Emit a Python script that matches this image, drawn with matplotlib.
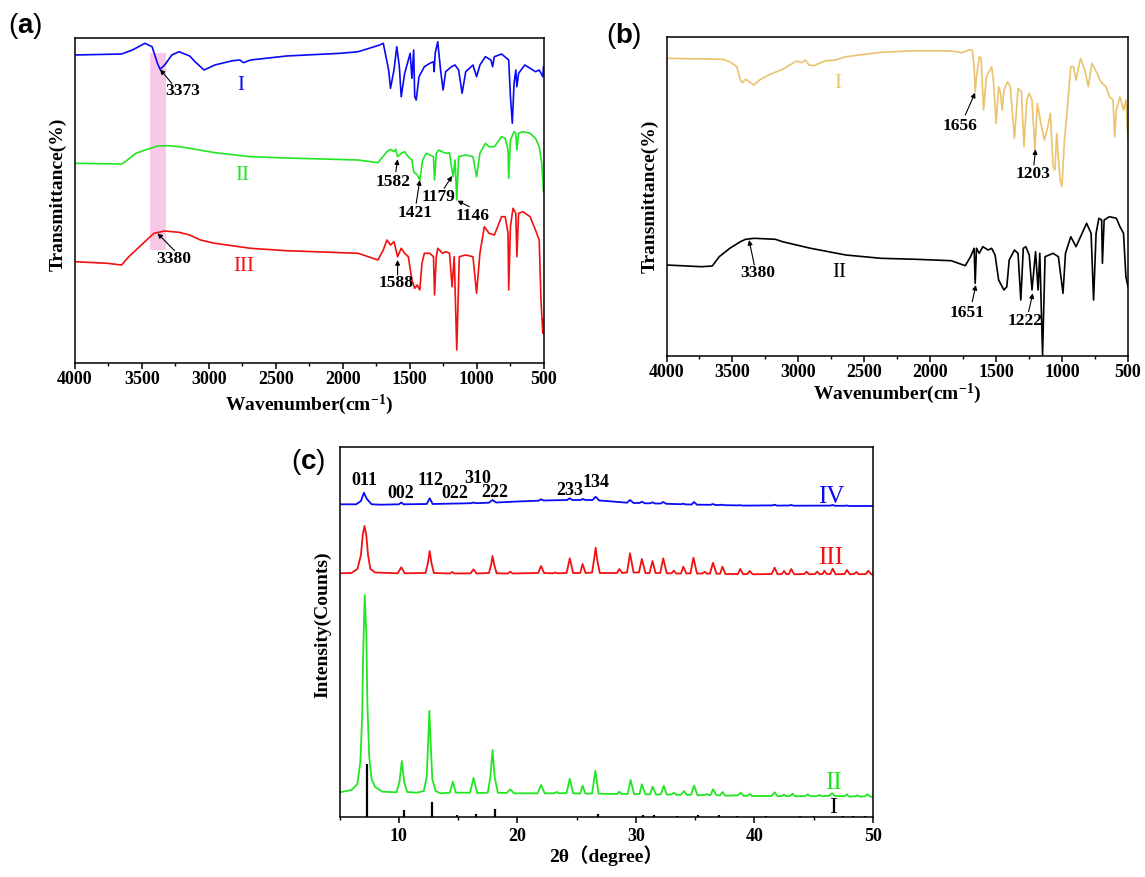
import matplotlib
matplotlib.use("Agg")
import matplotlib.pyplot as plt
from matplotlib.ticker import MultipleLocator

plt.rcParams['font.family'] = ['Liberation Serif', 'Noto Sans CJK SC']
plt.rcParams['mathtext.fontset'] = 'custom'
plt.rcParams['mathtext.rm'] = 'Liberation Serif:bold'
plt.rcParams['mathtext.bf'] = 'Liberation Serif:bold'
plt.rcParams['mathtext.it'] = 'Liberation Serif:bold:italic'

# ---------------- data: panel (a) FTIR (wavenumber, transmittance a.u.) ----------------
a_I = [(4000, 308), (3652, 309), (3571, 313), (3478, 319.7), (3424, 316.3), (3384, 299.7),
       (3365, 293.7), (3330, 298), (3277, 308), (3223, 311.3), (3143, 307), (3103, 301.3),
       (3036, 293), (2956, 298), (2822, 302.3), (2768, 303), (2741, 300.3), (2688, 303),
       (2420, 307), (2018, 309.7), (1884, 311.3), (1724, 318), (1697, 319.7), (1657, 293),
       (1643, 274.7), (1617, 293), (1596, 316.3), (1577, 296.3), (1563, 266.3), (1537, 289.7),
       (1496, 309.7), (1483, 284.7), (1470, 313), (1462, 266.3), (1451, 263), (1430, 286.3),
       (1390, 296.3), (1349, 299.7), (1322, 301.3), (1317, 291.3), (1309, 309.7), (1290, 321.3),
       (1269, 293), (1250, 273), (1231, 291.3), (1188, 296.3), (1161, 298), (1134, 293),
       (1108, 269.7), (1081, 291.3), (1027, 298), (1000, 286.3), (975, 298), (934, 306.3),
       (893, 303), (880, 296.3), (867, 306.3), (813, 309), (760, 303), (747, 266.3),
       (733, 239.7), (720, 279.7), (707, 293), (699, 276.3), (686, 289.7), (640, 298),
       (600, 294.7), (560, 291.3), (532, 293), (505, 286.3), (500, 296.3)]
a_II = [(4000, 199.7), (3652, 199), (3625, 201.3), (3545, 209.7), (3438, 214.7), (3384, 217),
        (3304, 217.3), (3223, 216.3), (3143, 214.7), (2956, 210.3), (2688, 206.3), (2420, 205),
        (1884, 203), (1737, 200.3), (1670, 211.3), (1643, 213.7), (1617, 211.3), (1604, 213.7),
        (1590, 206.3), (1563, 209.7), (1537, 211.3), (1510, 206.3), (1483, 203), (1470, 191.3),
        (1443, 188), (1424, 183), (1403, 203), (1376, 209.7), (1349, 208), (1322, 206.3),
        (1314, 183), (1301, 209.7), (1282, 213), (1242, 210.3), (1215, 209.7), (1202, 210.3),
        (1188, 196.3), (1175, 186.3), (1161, 203), (1148, 163), (1134, 206.3), (1081, 208),
        (1027, 206.3), (1000, 186.3), (975, 209.7), (934, 219.7), (907, 216.3), (867, 216.3),
        (813, 226.3), (786, 224.7), (765, 213), (760, 184.7), (747, 223), (720, 231.3),
        (707, 229.7), (699, 213), (686, 229.7), (654, 231.3), (600, 229.7), (560, 224.7),
        (532, 216.3), (513, 199.7), (500, 171.3)]
a_III = [(4000, 101.3), (3759, 99.7), (3652, 98), (3598, 106.3), (3491, 119.7), (3411, 129.7),
         (3330, 132), (3223, 130.7), (3143, 128), (3063, 123), (2956, 119.7), (2688, 114.7),
         (2420, 112.3), (1884, 109.7), (1737, 103), (1697, 113), (1670, 123), (1643, 118),
         (1617, 121.3), (1590, 106.3), (1563, 114.7), (1537, 109.7), (1510, 106.3), (1483, 83),
         (1462, 74.7), (1443, 78), (1424, 73), (1408, 99.7), (1390, 109.7), (1349, 109.7),
         (1322, 106.3), (1314, 68), (1301, 106.3), (1290, 114.7), (1255, 109.7), (1229, 111.3),
         (1202, 109.7), (1183, 76.3), (1167, 106.3), (1148, 13), (1129, 106.3), (1081, 108),
         (1027, 106.3), (1000, 69.7), (975, 109.7), (942, 136.3), (907, 129.7), (867, 128),
         (813, 146.3), (786, 146.3), (765, 129.7), (760, 73), (747, 136.3), (728, 154.7),
         (707, 149.7), (699, 106.3), (686, 149.7), (654, 151.3), (600, 146.3), (560, 133),
         (532, 123), (519, 63), (505, 29.7), (500, 43)]
a_band_wn = [3438, 3317]
a_band_T = (113, 309.7)

# ---------------- data: panel (b) FTIR ----------------
b_I = [(4000, 297.7), (3573, 296.7), (3520, 294.3), (3467, 289.3), (3440, 276), (3427, 273.3),
       (3400, 276.7), (3374, 274.3), (3339, 271), (3294, 276), (3227, 281), (3120, 286.7),
       (3014, 295), (2974, 293.3), (2947, 296), (2920, 291), (2880, 290.3), (2840, 292.7),
       (2800, 295), (2720, 296), (2640, 299.3), (2374, 303.7), (2107, 305.3), (1841, 305),
       (1761, 303.3), (1707, 306), (1681, 306), (1667, 289.3), (1659, 264.3), (1649, 279.3),
       (1628, 299.3), (1614, 297.7), (1595, 246), (1574, 279.3), (1534, 289.3), (1521, 276),
       (1500, 232.7), (1481, 269.3), (1467, 262.7), (1454, 246), (1441, 266), (1414, 274.3),
       (1393, 269.3), (1361, 217.7), (1334, 267.7), (1308, 264.3), (1289, 209.3), (1268, 256),
       (1249, 262.7), (1228, 256), (1206, 206), (1188, 252.7), (1161, 232.7), (1134, 216),
       (1108, 229.3), (1089, 242.7), (1068, 189.3), (1054, 186), (1041, 222.7), (1027, 196),
       (1014, 176), (1001, 169.3), (982, 216), (961, 246), (934, 289.3), (913, 289.3),
       (894, 276), (860, 297.7), (828, 286), (801, 269.3), (774, 292.7), (734, 282.7),
       (707, 274.3), (667, 269.3), (641, 259.3), (614, 256), (601, 219.3), (588, 246),
       (561, 259.3), (534, 246), (516, 256), (500, 216)]
b_II = [(4000, 91), (3733, 89.3), (3653, 90), (3600, 99.3), (3520, 107.7), (3440, 114.3),
        (3400, 116.7), (3334, 117.7), (3174, 116.7), (3120, 114.3), (2907, 107.7), (2640, 101),
        (2374, 97.7), (2107, 96.7), (1841, 95.3), (1734, 90.3), (1694, 99.3), (1667, 107.7),
        (1659, 72.7), (1649, 107.7), (1628, 102.7), (1601, 109.3), (1561, 106), (1534, 107.7),
        (1508, 101), (1481, 76), (1441, 66), (1419, 69.3), (1401, 96), (1361, 106),
        (1334, 102.7), (1313, 56), (1294, 107.7), (1275, 109.3), (1249, 101), (1228, 66),
        (1201, 104.3), (1182, 66), (1169, 102.7), (1148, 1), (1129, 99.3), (1068, 102.7),
        (1028, 99.3), (993, 62.7), (974, 102.7), (934, 119.3), (894, 109.3), (814, 132.7),
        (780, 122.7), (761, 56), (742, 122.7), (721, 137.7), (700, 136), (694, 92.7),
        (681, 136), (641, 139.3), (588, 137.7), (561, 129.3), (534, 122.7), (516, 79.3),
        (500, 69.3)]

# ---------------- data: panel (c) XRD (2theta, intensity a.u.) ----------------
c_II = [(5.0, 24.7), (6.0, 27), (6.5, 33), (6.75, 55), (6.9, 100), (7.0, 170), (7.12, 222),
        (7.25, 185), (7.35, 110), (7.5, 60), (7.7, 38), (8.0, 30), (8.6, 25.3),
        (9.8, 24.7), (10.05, 35), (10.25, 56), (10.45, 35), (10.7, 25), (11.5, 24.3),
        (12.1, 26), (12.35, 40), (12.47, 75), (12.57, 106), (12.68, 75), (12.82, 38), (13.1, 26),
        (13.5, 23.7), (14.3, 24.3), (14.55, 35.3), (14.8, 24.3), (16.0, 24.3), (16.3, 39),
        (16.6, 24), (17.5, 24.3), (17.72, 40), (17.9, 67), (18.08, 40), (18.35, 24.3),
        (19.1, 24), (19.4, 27.7), (19.7, 23.7), (21.7, 23.7), (22.0, 32), (22.3, 23.7),
        (23.1, 23.7), (23.3, 25), (23.5, 23.7), (24.15, 24), (24.42, 38.3), (24.7, 23.7),
        (25.3, 23.5), (25.5, 31.3), (25.75, 23.3), (26.3, 23.5), (26.58, 46.3), (26.85, 23.3),
        (28.4, 23), (28.6, 25.3), (28.8, 23), (29.3, 23), (29.55, 37), (29.85, 22.7),
        (30.3, 23), (30.5, 32.7), (30.8, 22.7), (31.2, 22.7), (31.4, 30.3), (31.7, 22.3),
        (32.1, 22.7), (32.35, 31.3), (32.6, 22.3), (33.0, 22.7), (33.2, 24.3), (33.4, 22.3),
        (33.8, 22.3), (34.05, 26), (34.3, 22), (34.65, 22.3), (34.9, 31.3), (35.2, 21.7),
        (35.8, 22), (36.0, 23), (36.2, 21.7), (36.3, 22), (36.5, 27.7), (36.8, 21.7),
        (37.1, 21.7), (37.3, 25), (37.55, 21.3), (38.6, 21.7), (38.85, 24.3), (39.1, 21),
        (39.4, 21.3), (39.6, 23), (39.8, 21), (41.45, 21), (41.7, 24.7), (41.95, 20.7),
        (42.3, 21), (42.5, 22.3), (42.7, 20.7), (43.0, 21), (43.2, 23.3), (43.45, 20.7),
        (44.3, 21), (44.5, 22.7), (44.7, 20.7), (45.3, 21), (45.5, 22), (45.7, 20.7),
        (46.3, 21.3), (46.55, 23.7), (46.8, 21), (47.6, 20.7), (47.8, 22.7), (48.0, 20.3),
        (48.5, 20.7), (48.7, 21.7), (48.9, 20.3), (49.3, 20.7), (49.55, 22.7), (49.8, 20.3),
        (50.0, 20.3)]
c_III = [(5.0, 243.7), (6.0, 244), (6.5, 248), (6.8, 262), (6.95, 282), (7.1, 291),
         (7.25, 282), (7.4, 262), (7.6, 248), (8.0, 244.5), (9.9, 243.7), (10.2, 249.7),
         (10.5, 243.7), (12.25, 244), (12.45, 254), (12.6, 266), (12.75, 254), (12.95, 244),
         (14.3, 243.5), (14.5, 245), (14.7, 243.5), (16.05, 243.7), (16.3, 247.7), (16.55, 243.5),
         (17.6, 244), (17.78, 252), (17.9, 261), (18.05, 252), (18.25, 243.7), (19.2, 243.5),
         (19.4, 245.3), (19.6, 243.5), (21.75, 244), (22.0, 251), (22.25, 244), (23.0, 243.7),
         (23.2, 244.5), (23.4, 243.7), (24.15, 244), (24.42, 258.7), (24.7, 244), (25.3, 244),
         (25.5, 253), (25.75, 244), (26.3, 244.5), (26.45, 256), (26.6, 269.3), (26.75, 256),
         (26.95, 244), (28.4, 244), (28.6, 248), (28.85, 244), (29.25, 244.5), (29.5, 263.7),
         (29.8, 244.5), (30.25, 244.5), (30.5, 258), (30.8, 244), (31.15, 244), (31.4, 256),
         (31.65, 244), (32.05, 244), (32.3, 258.7), (32.6, 243.7), (33.0, 243.7), (33.2, 246.3),
         (33.4, 243.5), (33.8, 243.5), (34.0, 250.3), (34.25, 243.5), (34.6, 243.7),
         (34.85, 259.3), (35.15, 243.5), (35.6, 243.5), (35.8, 245.3), (36.0, 243.3),
         (36.25, 243.5), (36.5, 254.3), (36.8, 243.3), (37.1, 243.3), (37.3, 250.3), (37.55, 243),
         (38.6, 243), (38.8, 248), (39.05, 242.7), (39.4, 243), (39.6, 246), (39.85, 242.7),
         (41.45, 243), (41.7, 249.3), (41.95, 242.7), (42.3, 243), (42.5, 246), (42.7, 242.7),
         (42.9, 243), (43.1, 248), (43.35, 242.7), (44.2, 243), (44.4, 245.3), (44.6, 242.7),
         (45.1, 243), (45.3, 245.3), (45.5, 242.7), (45.75, 243), (45.9, 246.3), (46.1, 243),
         (46.4, 243), (46.6, 248.3), (46.85, 242.7), (47.6, 243), (47.8, 247), (48.05, 242.7),
         (48.4, 243), (48.6, 245), (48.8, 242.7), (49.4, 243), (49.6, 246.3), (49.85, 242.7),
         (50.0, 243)]
c_IV = [(5.0, 312.7), (6.4, 312.7), (6.8, 316), (7.05, 324.3), (7.3, 318), (7.7, 312.7),
        (8.5, 312.3), (10.0, 312.7), (10.2, 314.5), (10.4, 312.7), (12.35, 313), (12.6, 318.7),
        (12.85, 313), (15.0, 313.5), (16.1, 313.8), (16.3, 314.5), (16.5, 313.8), (17.6, 314.3),
        (17.9, 317), (18.2, 314.5), (20.0, 315.5), (21.8, 316.3), (22.0, 317.8), (22.2, 316.5),
        (24.2, 317), (24.4, 318.7), (24.65, 317), (25.3, 317), (25.5, 318), (25.75, 317),
        (26.35, 317), (26.6, 320.3), (26.9, 316.5), (27.5, 316), (29.25, 314.3), (29.5, 317),
        (29.8, 314), (30.3, 314), (30.5, 315.3), (30.75, 313.7), (31.2, 313.7), (31.4, 314.7),
        (31.6, 313.5), (32.1, 313.5), (32.3, 315), (32.55, 313.2), (33.8, 312.8), (34.0, 313.3),
        (34.2, 312.6), (34.7, 312.5), (34.9, 315), (35.15, 312.3), (36.3, 312.2), (36.5, 313),
        (36.7, 312), (37.1, 312), (37.3, 312.3), (37.5, 311.8), (38.6, 311.6), (38.8, 311.8),
        (39.0, 311.4), (41.5, 311.6), (41.7, 312.3), (41.9, 311.4), (42.9, 311.5), (43.1, 312),
        (43.3, 311.3), (46.4, 311.4), (46.6, 312), (46.8, 311.2), (47.6, 311.2), (47.8, 311.5),
        (48.0, 311), (50.0, 311)]
c_ref_pos = [7.34, 10.4, 12.8, 14.9, 16.5, 18.15, 26.8, 30.6, 31.5, 33.5, 35.2, 37.0,
             38.5, 41.0, 43.8, 45.0, 47.5, 48.3, 49.3]
c_ref_h = [53, 7, 15.5, 2.5, 3.3, 8.3, 3, 2, 2, 1.5, 2, 2, 1.5, 1.5, 1.5, 1.5, 1.5, 1.5, 1.5]
c_hkl = ['011', '002', '112', '022', '310', '222', '233', '134']
c_hkl_x = [7.12, 10.19, 12.64, 14.75, 16.66, 18.1, 24.4, 26.6]
c_hkl_y = [337, 324, 337, 324, 339, 325, 327, 335]

wn_ticks = [4000, 3500, 3000, 2500, 2000, 1500, 1000, 500]
tt_ticks = [10, 20, 30, 40, 50]

BLUE = '#0A0AF5'
GREEN = '#22E622'
RED = '#F21010'
GOLD = '#EBC26E'

TICK_FS = 13
NUM_FS = 12.5

fig = plt.figure(figsize=(11.45, 8.77), dpi=100)
W, H = 1145.0, 877.0


def axes_px(left, top, right, bottom):
    return fig.add_axes([left / W, 1 - bottom / H, (right - left) / W, (bottom - top) / H])


def style_ftir(ax, ytop):
    ax.set_xlim(4000, 500)
    ax.set_ylim(0, ytop)
    ax.set_xticks(wn_ticks)
    ax.xaxis.set_minor_locator(MultipleLocator(250))
    ax.set_yticks([])
    ax.tick_params(axis='x', which='major', direction='out', length=4, width=1.1,
                   labelsize=TICK_FS, pad=2)
    ax.tick_params(axis='x', which='minor', direction='out', length=2.5, width=1.0)
    for lab in ax.get_xticklabels():
        lab.set_fontweight('bold')
    for s in ax.spines.values():
        s.set_linewidth(1.1)
    ax.set_xlabel('Wavenumber(cm$^{-1}$)', fontsize=14, fontweight='bold', labelpad=3)
    ax.set_ylabel('Transmittance(%)', fontsize=14, fontweight='bold')


def arrow(ax, tail, tip):
    ax.annotate('', xy=tip, xytext=tail,
                arrowprops=dict(arrowstyle='-|>', color='k', lw=0.8, mutation_scale=7,
                                shrinkA=0, shrinkB=0))


def num(ax, x, y, s):
    ax.text(x, y, s, fontsize=NUM_FS, fontweight='bold', ha='center', va='center')


def panel_label(xpx, ypx, letter):
    t1 = fig.text(xpx / W, 1 - ypx / H, '(', fontsize=20, family='Liberation Sans',
                  ha='left', va='center')
    t2 = fig.axes[0].annotate(letter, xy=(1, 0), xycoords=t1, fontsize=20, family='Liberation Sans',
                              fontweight='bold', ha='left', va='bottom', annotation_clip=False)
    fig.axes[0].annotate(')', xy=(1, 0), xycoords=t2, fontsize=20, family='Liberation Sans',
                         ha='left', va='bottom', annotation_clip=False)


def unzip(pairs):
    return [p[0] for p in pairs], [p[1] for p in pairs]


# ---------------- panel (a) ----------------
axa = axes_px(75, 38, 543.5, 363)
axa.fill_between(a_band_wn, a_band_T[0], a_band_T[1], color='#F8C8E8', lw=0, zorder=1)
for data, col in ((a_I, BLUE), (a_II, GREEN), (a_III, RED)):
    x, y = unzip(data)
    axa.plot(x, y, color=col, lw=1.2, zorder=2)
style_ftir(axa, 325)
axa.yaxis.set_label_coords(-0.018, 0.52)
axa.text(2763, 278, 'I', color=BLUE, fontsize=15, ha='center', va='center')
axa.text(2747, 188, 'II', color=GREEN, fontsize=15, ha='center', va='center')
axa.text(2741, 97, 'III', color=RED, fontsize=15, ha='center', va='center')
num(axa, 3197, 272.3, '3373'); arrow(axa, (3277, 279.7), (3365, 293.7))
num(axa, 1622, 181.3, '1582'); arrow(axa, (1603, 191.3), (1590, 203.7))
num(axa, 1461, 149.7, '1421'); arrow(axa, (1451, 159.7), (1424, 183))
num(axa, 1282, 166.3, '1179'); arrow(axa, (1242, 174.7), (1183, 187))
num(axa, 1027, 147, '1146'); arrow(axa, (1054, 156.3), (1143, 162.3))
num(axa, 3264, 103.7, '3380'); arrow(axa, (3256, 112.3), (3384, 129.7))
num(axa, 1603, 80.3, '1588'); arrow(axa, (1590, 88), (1590, 103))

# ---------------- panel (b) ----------------
axb = axes_px(666.5, 37.5, 1128, 356)
for data, col in ((b_I, GOLD), (b_II, 'k')):
    x, y = unzip(data)
    axb.plot(x, y, color=col, lw=1.2)
style_ftir(axb, 318.5)
axb.xaxis.labelpad = 0
axb.yaxis.set_label_coords(-0.017, 0.5)
axb.text(2699, 272.7, 'I', color=GOLD, fontsize=15, ha='center', va='center')
axb.text(2688, 83.3, 'II', color='k', fontsize=15, ha='center', va='center')
num(axb, 1774, 230, '1656'); arrow(axb, (1734, 241), (1659, 263.3))
num(axb, 1222, 181.7, '1203'); arrow(axb, (1214, 191), (1201, 206.7))
num(axb, 3307, 83.3, '3380'); arrow(axb, (3334, 91), (3374, 116))
num(axb, 1721, 43.3, '1651'); arrow(axb, (1681, 54.3), (1654, 71))
num(axb, 1281, 35.3, '1222'); arrow(axb, (1254, 44.3), (1222, 62.7))

# ---------------- panel (c) ----------------
axc = axes_px(339.6, 447, 873, 817)
for data, col in ((c_IV, BLUE), (c_III, RED), (c_II, GREEN)):
    x, y = unzip(data)
    axc.plot(x, y, color=col, lw=1.3)
axc.vlines(c_ref_pos, 0, c_ref_h, color='k', lw=1.6)
axc.set_xlim(5, 50)
axc.set_ylim(0, 370)
axc.set_xticks(tt_ticks)
axc.xaxis.set_minor_locator(MultipleLocator(5))
axc.set_yticks([])
axc.tick_params(axis='x', which='major', direction='out', length=4, width=1.1,
                labelsize=TICK_FS, pad=4)
axc.tick_params(axis='x', which='minor', direction='out', length=2.5, width=1.0)
for lab in axc.get_xticklabels():
    lab.set_fontweight('bold')
for s in axc.spines.values():
    s.set_linewidth(1.1)
axc.set_xlabel('2θ（degree）', fontsize=14, fontweight='bold', labelpad=0)
axc.set_ylabel('Intensity(Counts)', fontsize=14, fontweight='bold')
axc.yaxis.set_label_coords(-0.016, 0.52)
for s, x, y in zip(c_hkl, c_hkl_x, c_hkl_y):
    axc.text(x, y, s, fontsize=13, fontweight='bold', ha='center', va='center')
axc.text(46.5, 320, 'IV', color=BLUE, fontsize=18, ha='center', va='center')
axc.text(46.45, 259, 'III', color=RED, fontsize=18, ha='center', va='center')
axc.text(46.7, 34, 'II', color=GREEN, fontsize=18, ha='center', va='center')
axc.text(46.6, -1, 'I', color='k', fontsize=17, ha='center', va='bottom')

panel_label(8, 26, 'a')
panel_label(606, 36, 'b')
panel_label(291, 462, 'c')

fig.savefig('out.png', dpi=100)
